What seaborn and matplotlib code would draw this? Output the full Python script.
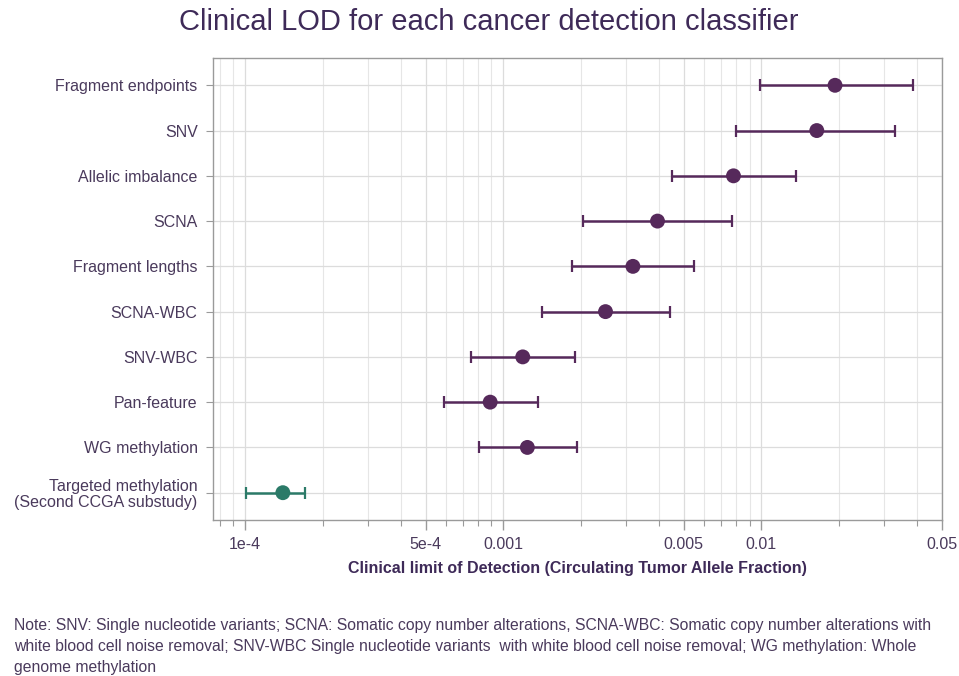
import numpy as np
import pandas as pd
import matplotlib
matplotlib.use("Agg")
import matplotlib.pyplot as plt
import matplotlib.ticker as mticker
import seaborn as sns

# Classifiers, top to bottom
classifiers = [
    "Fragment endpoints",
    "SNV",
    "Allelic imbalance",
    "SCNA",
    "Fragment lengths",
    "SCNA-WBC",
    "SNV-WBC",
    "Pan-feature",
    "WG methylation",
    "Targeted methylation\n(Second CCGA substudy)",
]
# Clinical LOD (point estimate) and interval bounds
lod = [0.0193, 0.0164, 0.0078, 0.00396, 0.00318, 0.00249, 0.00119, 0.00089, 0.00124, 0.00014]
lod_low = [0.0099, 0.0080, 0.00451, 0.00203, 0.00185, 0.00141, 0.000753, 0.000587, 0.000807, 0.000101]
lod_high = [0.0386, 0.0329, 0.0136, 0.00767, 0.00547, 0.00443, 0.00189, 0.00136, 0.00193, 0.00017]
group = ["ccga1"] * 9 + ["ccga2"]

tick_vals = [1e-4, 5e-4, 1e-3, 5e-3, 1e-2, 5e-2]
tick_labels = ["1e-4", "5e-4", "0.001", "0.005", "0.01", "0.05"]

colors = {"ccga1": "#56295b", "ccga2": "#2b7a68"}
text_col = "#4a3a5c"
title_col = "#3e2a58"

df = pd.DataFrame({
    "classifier": classifiers,
    "lod": lod,
    "low": lod_low,
    "high": lod_high,
    "group": group,
})
df["pos"] = np.arange(len(df))

sns.set_theme(style="whitegrid")
plt.rcParams["font.family"] = ["Liberation Sans", "DejaVu Sans"]

fig = plt.figure(figsize=(9.59, 6.76), dpi=100)
ax = fig.add_axes([0.222, 0.231, 0.760, 0.683])

# error bars
for g, sub in df.groupby("group"):
    ax.errorbar(sub["lod"], sub["pos"],
                xerr=[sub["lod"] - sub["low"], sub["high"] - sub["lod"]],
                fmt="none", ecolor=colors[g], elinewidth=1.8, capsize=4.5,
                capthick=1.6, zorder=3)

sns.scatterplot(data=df, x="lod", y="pos", hue="group", palette=colors,
                s=115, edgecolor="none", legend=False, zorder=4, ax=ax)

ax.set_xscale("log")
ax.set_xlim(7.5e-5, 0.05)
ax.set_ylim(len(df) - 0.4, -0.6)

ax.xaxis.set_major_locator(mticker.FixedLocator(tick_vals))
ax.xaxis.set_major_formatter(mticker.FixedFormatter(tick_labels))
ax.xaxis.set_minor_locator(mticker.LogLocator(base=10, subs=np.arange(1, 10)))
ax.xaxis.set_minor_formatter(mticker.NullFormatter())

ax.set_yticks(df["pos"])
ax.set_yticklabels(df["classifier"])

ax.grid(True, which="major", axis="both", color="#dcdcdc", linewidth=0.9)
ax.grid(True, which="minor", axis="x", color="#e6e6e6", linewidth=0.8)
ax.set_axisbelow(True)

for sp in ax.spines.values():
    sp.set_color("#9a9a9a")
    sp.set_linewidth(1.0)

ax.tick_params(axis="x", which="major", length=7, width=1, color="#9a9a9a",
               labelsize=11.5, labelcolor=text_col, pad=5, bottom=True)
ax.tick_params(axis="x", which="minor", length=4, width=0.8, color="#9a9a9a", bottom=True)
ax.tick_params(axis="y", length=5, width=0.8, color="#9a9a9a",
               labelsize=11.5, labelcolor=text_col, pad=6, left=True)
for lab in ax.get_yticklabels():
    lab.set_linespacing(1.1)

ax.set_xlabel("Clinical limit of Detection (Circulating Tumor Allele Fraction)",
              fontsize=11.5, fontweight="bold", color="#3e2a58", labelpad=7)
ax.set_ylabel("")

fig.text(0.51, 0.968, "Clinical LOD for each cancer detection classifier",
         ha="center", va="center", fontsize=21, color=title_col)

note = ("Note: SNV: Single nucleotide variants; SCNA: Somatic copy number alterations, "
        "SCNA-WBC: Somatic copy number alterations with\n"
        "white blood cell noise removal; SNV-WBC Single nucleotide variants  with white "
        "blood cell noise removal; WG methylation: Whole\n"
        "genome methylation")
fig.text(0.015, 0.044, note, ha="left", va="center", fontsize=11.35,
         color=text_col, linespacing=1.5)

fig.savefig("out.png", dpi=100)
